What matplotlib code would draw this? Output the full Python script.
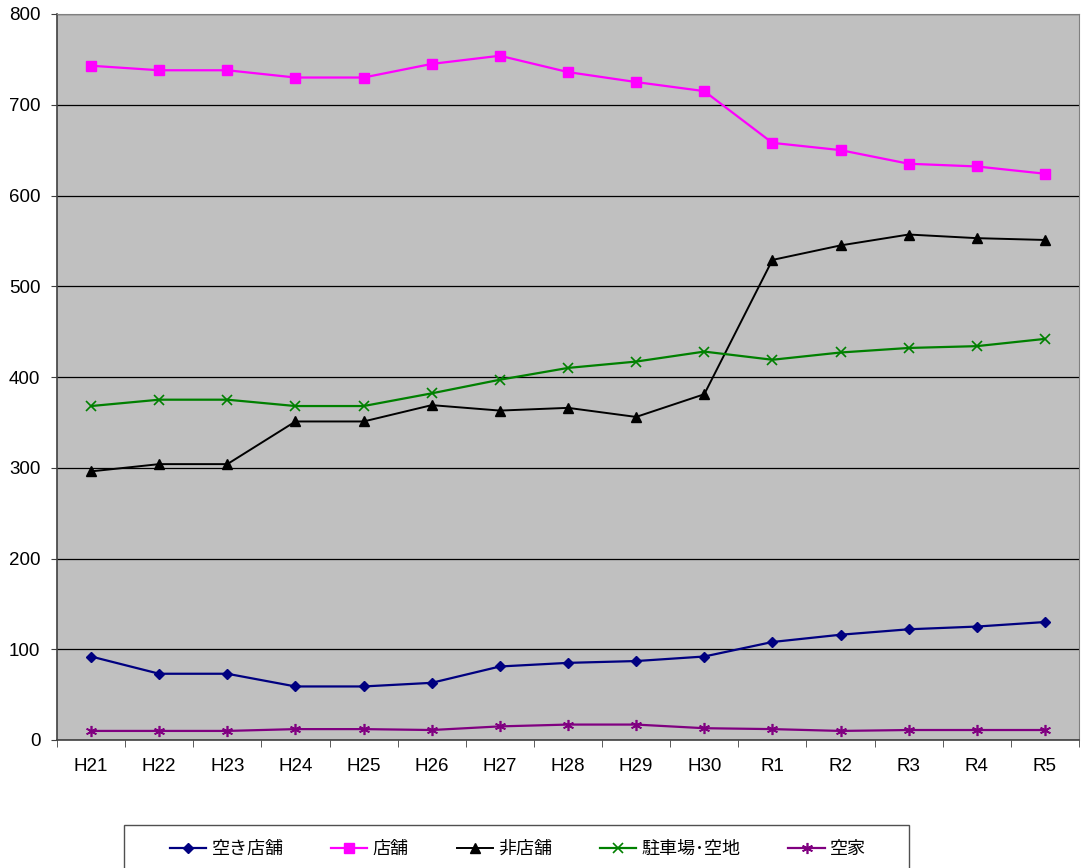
import numpy as np
import matplotlib.pyplot as plt
from matplotlib.patches import Rectangle

plt.rcParams['font.family'] = ['Liberation Sans', 'Noto Sans CJK JP', 'DejaVu Sans']

years = ['H21', 'H22', 'H23', 'H24', 'H25', 'H26', 'H27', 'H28', 'H29', 'H30',
         'R1', 'R2', 'R3', 'R4', 'R5']

akiten = [92, 73, 73, 59, 59, 63, 81, 85, 87, 92, 108, 116, 122, 125, 130]
tenpo = [743, 738, 738, 730, 730, 745, 754, 736, 725, 715, 658, 650, 635, 632, 624]
hitenpo = [296, 304, 304, 351, 351, 369, 363, 366, 356, 381, 529, 545, 557, 553, 551]
chusha = [368, 375, 375, 368, 368, 382, 397, 410, 417, 428, 419, 427, 432, 434, 442]
akiya = [10, 10, 10, 12, 12, 11, 15, 17, 17, 13, 12, 10, 11, 11, 11]

W, H = 1081, 868
fig = plt.figure(figsize=(W / 100, H / 100), dpi=100)
ax = fig.add_axes([57 / W, 1 - 740 / H, 1022 / W, 726 / H])
ax.set_facecolor('#C0C0C0')

x = np.arange(len(years))
ax.plot(x, akiten, color='#000080', marker='D', markersize=5, lw=1.6, label='空き店舗')
ax.plot(x, tenpo, color='#FF00FF', marker='s', markersize=7, lw=1.6, label='店舗')
ax.plot(x, hitenpo, color='black', marker='^', markersize=7, lw=1.4, label='非店舗')
ax.plot(x, chusha, color='#008000', marker='x', markersize=7, mew=1.2, lw=1.6, label='駐車場･空地')
ax.plot(x, akiya, color='#800080', marker=(6, 2, 0), markersize=8, mew=1.2, lw=1.6, label='空家')

ax.set_xlim(-0.5, len(years) - 0.5)
ax.set_ylim(0, 800)
ax.set_yticks(np.arange(0, 801, 100))
ax.yaxis.grid(True, color='black', lw=0.9)
ax.set_axisbelow(True)

ax.set_xticks(x)
ax.set_xticklabels(years)
ax.set_xticks(np.arange(-0.5, len(years), 1), minor=True)
ax.tick_params(axis='x', which='major', length=0, pad=13, labelsize=13.5)
ax.tick_params(axis='x', which='minor', length=5, direction='out', color='#404040')
ax.tick_params(axis='y', length=4, direction='out', labelsize=13.5, color='#404040', pad=8)

for s in ['left', 'bottom']:
    ax.spines[s].set_color('#404040')
    ax.spines[s].set_linewidth(1.2)
for s in ['top', 'right']:
    ax.spines[s].set_color('#808080')

# legend box (runs off the bottom of the picture)
fig.patches.append(Rectangle((124 / W, -0.02), 785 / W, 1 - 825 / H + 0.02,
                             transform=fig.transFigure, facecolor='white',
                             edgecolor='#505050', lw=1.0))
leg = fig.legend(loc='center', bbox_to_anchor=(518 / W, 1 - 849 / H), ncol=5,
                 frameon=False,
                 prop={'family': ['Noto Sans CJK JP', 'DejaVu Sans'], 'size': 13},
                 handlelength=2.0, handletextpad=0.3, columnspacing=2.65,
                 borderpad=0, borderaxespad=0)

fig.savefig('out.png', dpi=100)
